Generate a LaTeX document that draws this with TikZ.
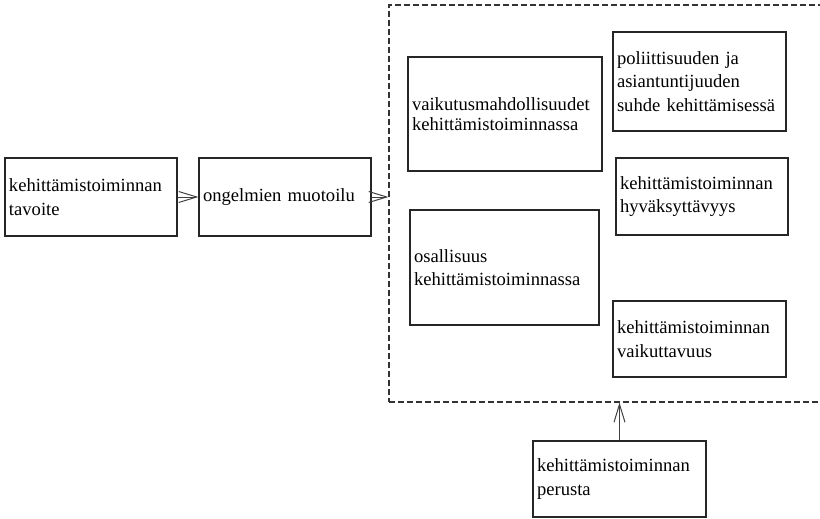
\documentclass[tikz,border=0pt]{standalone}
\usepackage{fontspec}
\setmainfont{Liberation Serif}
\usepackage{tikz}
\usetikzlibrary{positioning, arrows.meta}
\hyphenpenalty=10000

\begin{document}
\begin{tikzpicture}[
      x=1pt, y=-1pt,
      font=\fontsize{18.6}{23.5}\selectfont,
      box/.style={draw=black!85, line width=1.2pt, rectangle, inner sep=4pt,
                  align=left, anchor=center},
      frame/.style={draw=black!80, line width=1.1pt, dash pattern=on 6pt off 3pt,
                    rectangle, minimum width=442pt, minimum height=397pt},
      arr/.style={-{Straight Barb[length=18pt, width=11pt, line width=1pt]},
                  line width=1pt, draw=black!75}]
    \clip (0,0) rectangle (820,519);
    \node[frame] (fr) at (610,203.5) {};
    \node[box, minimum width=172pt, minimum height=78pt, text width=164pt] (tav) at (91,197) {kehittämistoiminnan\\tavoite};
    \node[box, minimum width=172pt, minimum height=78pt, text width=164pt] (muo) at (285,197) {ongelmien muotoilu};
    \node[box, minimum width=194pt, minimum height=114pt, text width=186pt, font=\fontsize{18.6}{20.5}\selectfont] (vai) at (505,114) {vaikutusmahdollisuudet\\kehittämistoiminnassa};
    \node[box, minimum width=173pt, minimum height=99pt, text width=165pt] (pol) at (699.5,81.5) {poliittisuuden ja\\asiantuntijuuden\\suhde kehittämisessä};
    \node[box, minimum width=172pt, minimum height=77pt, text width=164pt] (hyv) at (702,196.5) {kehittämistoiminnan\\hyväksyttävyys};
    \node[box, minimum width=189pt, minimum height=115pt, text width=181pt] (osa) at (504.5,267.5) {osallisuus\\kehittämistoiminnassa};
    \node[box, minimum width=173pt, minimum height=76pt, text width=165pt] (vta) at (699.5,339) {kehittämistoiminnan\\vaikuttavuus};
    \node[box, minimum width=173pt, minimum height=76pt, text width=165pt] (per) at (619.5,479) {kehittämistoiminnan\\perusta};
    \draw[arr] (tav.east) -- (muo.west);
    \draw[arr] (muo.east) -- (muo.east -| fr.west);
    \draw[arr] (per.north) -- (per.north |- fr.south);
  \end{tikzpicture}
\end{document}
